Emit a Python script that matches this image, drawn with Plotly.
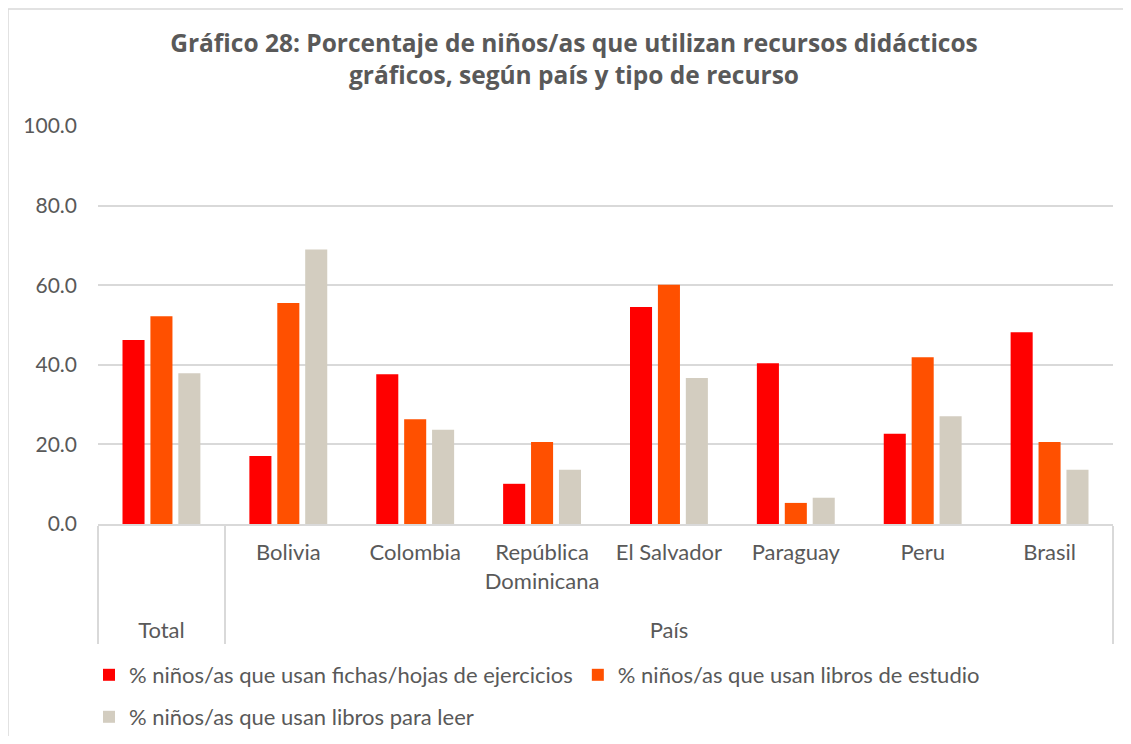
import plotly.graph_objects as go

outer = ["Total", "País", "País", "País", "País", "País", "País", "País"]
inner = [" ", "Bolivia", "Colombia", "República<br>Dominicana<br>\u00a0", "El Salvador", "Paraguay", "Peru", "Brasil"]

fichas = [46.2, 17.1, 37.6, 10.1, 54.5, 40.4, 22.7, 48.2]
estudio = [52.2, 55.5, 26.3, 20.6, 60.1, 5.3, 41.9, 20.6]
leer = [37.9, 69.0, 23.7, 13.6, 36.7, 6.6, 27.1, 13.6]

names = [
    "% niños/as que usan fichas/hojas de ejercicios",
    "% niños/as que usan libros de estudio",
    "% niños/as que usan libros para leer",
]
colors = ["#FF0000", "#FF5000", "#D3CDC0"]
legends = ["legend", "legend", "legend2"]
y_ticks = [0, 20, 40, 60, 80, 100]

FONT = "Lato"
TXT = "#595959"
OFF = 8  # page body margin

fig = go.Figure()
for vals, name, col, lg in zip([fichas, estudio, leer], names, colors, legends):
    fig.add_trace(go.Bar(
        x=[outer, inner], y=vals, name=name, legend=lg,
        marker=dict(color=col, line=dict(width=0)),
    ))

W, H = 1131 - 2 * OFF, 744 - 2 * OFF
# screen positions of plot area: left 98, right 1113, top 126, bottom 524
ml = 98 - OFF
mr = W - (1113 - OFF)
mt = 126 - OFF
mb = H - (524 - OFF)
pw, ph = W - ml - mr, H - mt - mb

def px_x(p):
    return (p - OFF - ml) / pw

def px_y(p):
    return ((524 - OFF) - (p - OFF)) / ph

legend_common = dict(
    orientation="h", xanchor="left", yanchor="middle",
    font=dict(family=FONT, size=22, color=TXT),
    itemwidth=30, bgcolor="rgba(0,0,0,0)",
)

fig.update_layout(
    width=W, height=H,
    margin=dict(l=ml, r=mr, t=mt, b=mb, autoexpand=False),
    paper_bgcolor="white", plot_bgcolor="white",
    font=dict(family=FONT, size=22, color=TXT),
    title=dict(
        text="<b>Gráfico 28: Porcentaje de niños/as que utilizan recursos didácticos<br>gráficos, según país y tipo de recurso</b>",
        x=(574 - OFF) / W, xanchor="center", y=1 - (52 - OFF) / H, yanchor="top",
        font=dict(family="Open Sans", size=24.5, color=TXT),
    ),
    barmode="group", bargap=0.34, bargroupgap=0.21,
    showlegend=True,
    legend=dict(x=px_x(89), y=px_y(675), **legend_common),
    legend2=dict(x=px_x(89), y=px_y(717), **legend_common),
    xaxis=dict(
        type="multicategory", showgrid=False, ticks="",
        showline=True, linecolor="#D9D9D9", linewidth=1.5,
        showdividers=True, dividercolor="#D9D9D9", dividerwidth=1.5,
        tickfont=dict(family=FONT, size=22, color=TXT),
        ticklabelstandoff=8,
    ),
    yaxis=dict(
        range=[0, 100], tickvals=y_ticks, tickformat=".1f",
        showgrid=True, gridcolor="#D9D9D9", gridwidth=1.5,
        zeroline=False, showline=False, ticks="",
        tickfont=dict(family=FONT, size=21, color=TXT),
        ticklabelstandoff=20,
    ),
    shapes=[dict(
        type="rect", xref="paper", yref="paper",
        x0=px_x(OFF), x1=px_x(1150), y0=px_y(760), y1=px_y(9),
        line=dict(color="#D9D9D9", width=1.5), fillcolor="rgba(0,0,0,0)", layer="below",
    )],
)

fig.write_html("out.html")
